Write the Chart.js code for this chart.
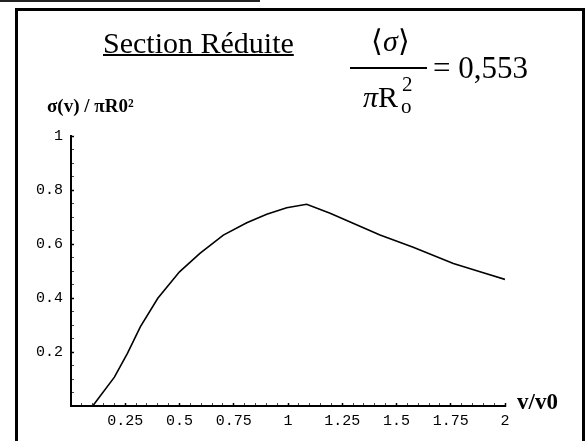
<!DOCTYPE html>
<html>
<head>
<meta charset="utf-8">
<script src="https://cdn.jsdelivr.net/npm/chart.js@4"></script>
<style>
  body { margin: 0; background: #fff; }
  #wrap { position: relative; width: 585px; height: 441px; overflow: hidden; }
  #chart { position: absolute; left: 0; top: 0; }
  .t { position: absolute; font-family: "Liberation Serif", "Times New Roman", serif; color: #000; white-space: nowrap; line-height: 1; }
  #frame { position: absolute; left: 15px; top: 8px; width: 564px; height: 460px; border: 3px solid #000; }
  #scrap { position: absolute; left: 0; top: 0; width: 260px; height: 2px; background: #222; }
</style>
</head>
<body>
<div id="wrap">
  <div id="scrap"></div>
  <div id="frame"></div>
  <canvas id="chart" width="585" height="441"></canvas>
  <div class="t" style="left:103px; top:28px; font-size:30px; text-decoration:underline; text-decoration-thickness:2px;">Section Réduite</div>
  <div class="t" style="left:371px; top:26px; font-size:30px;">⟨<i>σ</i>⟩</div>
  <div style="position:absolute; left:350px; top:67px; width:77px; height:2px; background:#000;"></div>
  <div class="t" style="left:363px; top:82px; font-size:30px;"><i>π</i>R</div>
  <div class="t" style="left:401px; top:96px; font-size:21px;">o</div>
  <div class="t" style="left:402px; top:74px; font-size:21px;">2</div>
  <div class="t" style="left:433px; top:52px; font-size:31px;">= 0,553</div>
  <div class="t" style="left:47px; top:96px; font-size:19px; font-weight:bold;">σ(v) / πR0²</div>
  <div class="t" style="left:517px; top:390px; font-size:23px; font-weight:bold;">v/v0</div>
</div>
<script>
const vRatio = [0, 0.1, 0.2, 0.26, 0.32, 0.4, 0.5, 0.594, 0.702, 0.81, 0.902, 0.994, 1.086, 1.194, 1.424, 1.577, 1.762, 1.885, 2.0];
const sigmaRatio = [0, 0, 0.107, 0.195, 0.294, 0.399, 0.497, 0.565, 0.633, 0.679, 0.71, 0.734, 0.747, 0.714, 0.633, 0.588, 0.528, 0.497, 0.469];
const xTicks = [0.25, 0.5, 0.75, 1, 1.25, 1.5, 1.75, 2];
const yTicks = [0.2, 0.4, 0.6, 0.8, 1];

const points = vRatio.map((v, i) => ({ x: v, y: sigmaRatio[i] }));
const tickFont = { family: '"Liberation Mono", "Courier New", monospace', size: 15 };

// major + minor tick positions (minor every 0.05, like the original plot)
function tickList(max, majors) {
  const out = [];
  for (let i = 0; i <= Math.round(max / 0.05); i++) {
    const v = Math.round(i * 5) / 100;
    out.push({ value: v, major: majors.includes(v) });
  }
  return out;
}
const isMajor = (ctx) => ctx.tick && ctx.tick.major;

new Chart(document.getElementById('chart'), {
  type: 'scatter',
  data: {
    datasets: [{
      data: points,
      showLine: true,
      borderColor: '#000',
      borderWidth: 1.6,
      pointRadius: 0,
      tension: 0
    }]
  },
  options: {
    responsive: false,
    animation: false,
    layout: { padding: { left: 0, top: 136, right: 80, bottom: 0 } },
    plugins: { legend: { display: false }, tooltip: { enabled: false } },
    scales: {
      x: {
        type: 'linear', min: 0, max: 2,
        afterFit: s => { s.height = 35; },
        afterBuildTicks: s => { s.ticks = tickList(2, xTicks); },
        ticks: { color: '#000', font: tickFont, padding: 9, maxRotation: 0, autoSkip: false,
          callback: (v, i, ticks) => ticks[i].major ? String(v) : '' },
        grid: { drawOnChartArea: false, drawTicks: true, tickLength: -3,
          tickColor: c => isMajor(c) ? '#000' : '#444', tickWidth: c => isMajor(c) ? 1.5 : 1 },
        border: { display: true, color: '#000', width: 2 }
      },
      y: {
        type: 'linear', min: 0, max: 1,
        afterFit: s => { s.width = 71; },
        afterBuildTicks: s => { s.ticks = tickList(1, yTicks); },
        ticks: { color: '#000', font: tickFont, padding: 11, autoSkip: false,
          callback: (v, i, ticks) => ticks[i].major ? String(v) : '' },
        grid: { drawOnChartArea: false, drawTicks: true, tickLength: -3,
          tickColor: c => isMajor(c) ? '#000' : '#444', tickWidth: c => isMajor(c) ? 1.5 : 1 },
        border: { display: true, color: '#000', width: 2 }
      }
    }
  }
});
</script>
</body>
</html>
